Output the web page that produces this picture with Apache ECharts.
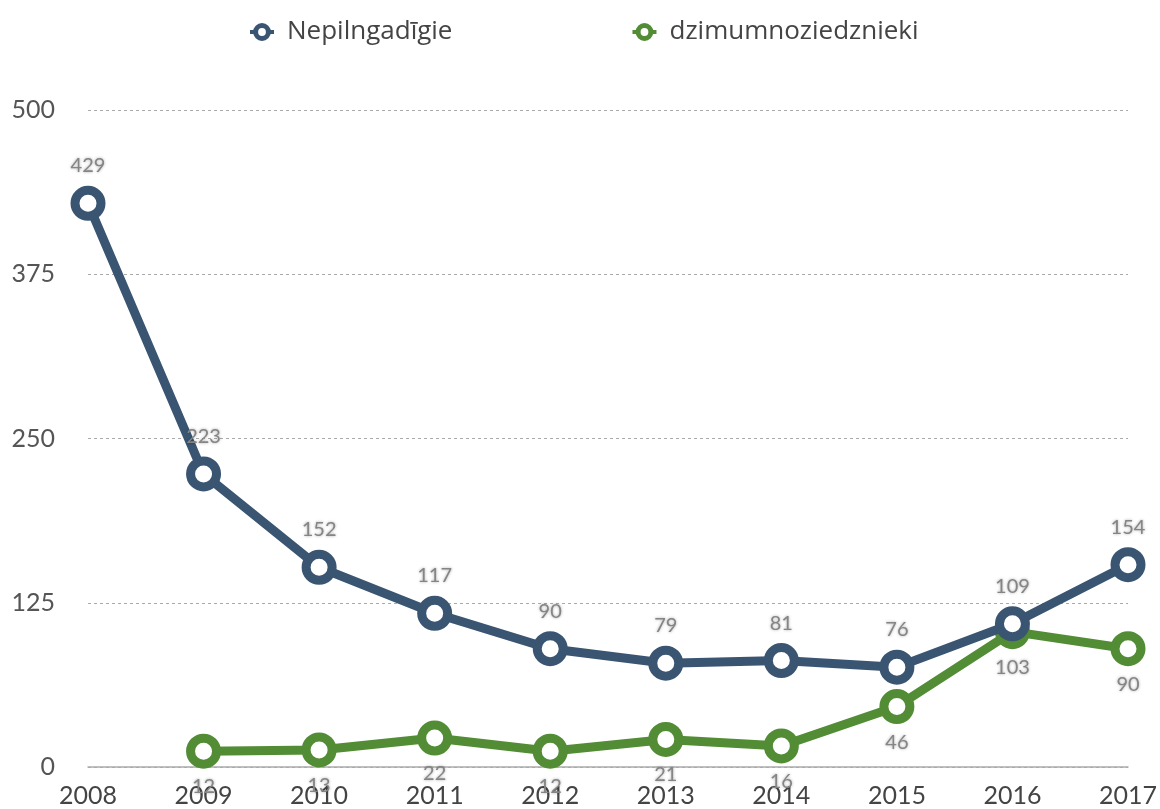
<!DOCTYPE html>
<html>
<head>
<meta charset="utf-8">
<script src="https://cdn.jsdelivr.net/npm/echarts@6/dist/echarts.min.js"></script>
<style>
  html, body { margin: 0; padding: 0; background: #fff; }
  #chart { width: 1160px; height: 809px; }
</style>
</head>
<body>
<div id="chart"></div>
<script>
const years = ['2008', '2009', '2010', '2011', '2012', '2013', '2014', '2015', '2016', '2017'];
const nepilngadigie = [429, 223, 152, 117, 90, 79, 81, 76, 109, 154];
const dzimumnoziedznieki = ['-', 12, 13, 22, 12, 21, 16, 46, 103, 90];
const seriesNames = ['Nepilngadīgie', 'dzimumnoziedznieki'];
const colors = ['#3a5572', '#528c35'];

const font = 'Lato, "Noto Sans", sans-serif';

const labelStyle = {
  show: true,
  color: '#858585',
  fontSize: 20,
  fontFamily: font,
  textShadowColor: 'rgba(0,0,0,0.35)',
  textShadowBlur: 3
};

function makeSeries(i, data, pos, dist, z) {
  return {
    name: seriesNames[i],
    type: 'line',
    data: data,
    symbol: 'circle',
    symbolSize: 26,
    z: z,
    lineStyle: { color: colors[i], width: 9 },
    itemStyle: { color: '#fff', borderColor: colors[i], borderWidth: 9 },
    label: Object.assign({ position: pos, distance: dist }, labelStyle)
  };
}

const chart = echarts.init(document.getElementById('chart'), null, { renderer: 'canvas' });

chart.setOption({
  animation: false,
  legend: {
    top: 14,
    left: 243,
    itemGap: 178,
    itemWidth: 24,
    itemHeight: 16,
    textStyle: { fontSize: 26, color: '#444', fontFamily: '"Open Sans", sans-serif', padding: [0, 0, 0, 8] },
    data: seriesNames.map((n, i) => ({
      name: n,
      itemStyle: { color: '#fff', borderColor: colors[i], borderWidth: 5 },
      lineStyle: { color: colors[i], width: 4 }
    }))
  },
  grid: { left: 88, right: 32, top: 110, bottom: 42, containLabel: false },
  xAxis: {
    type: 'category',
    data: years,
    boundaryGap: false,
    axisLine: { lineStyle: { color: '#aaa', width: 1.5 } },
    axisTick: { show: false },
    axisLabel: { fontSize: 25, color: '#444', fontFamily: font, margin: 16 }
  },
  yAxis: {
    type: 'value',
    min: 0,
    max: 500,
    interval: 125,
    axisLine: { show: false },
    axisTick: { show: false },
    axisLabel: { fontSize: 25, color: '#555', fontFamily: font, margin: 33 },
    splitLine: { lineStyle: { color: '#aaa', type: [3, 3], width: 1 } }
  },
  series: [
    makeSeries(0, nepilngadigie, 'top', 10, 3),
    makeSeries(1, dzimumnoziedznieki, 'bottom', 8, 2)
  ]
});
</script>
</body>
</html>
